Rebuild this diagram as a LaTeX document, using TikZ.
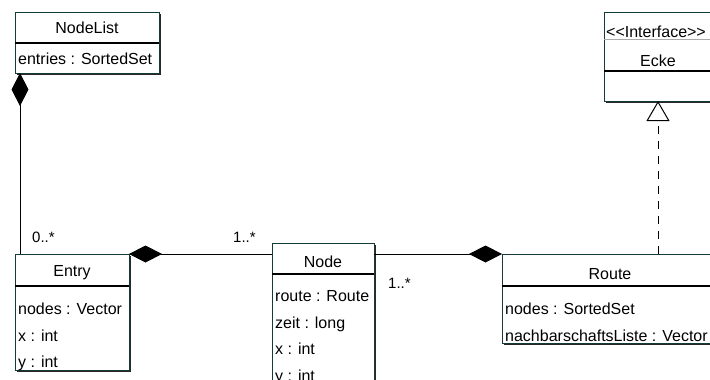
\documentclass[tikz,border=0pt]{standalone}
\usepackage{fontspec}
\setmainfont{Liberation Sans}
\usetikzlibrary{arrows.meta,shadows}

\definecolor{boxline}{RGB}{20,58,58}
\definecolor{shadowcol}{RGB}{40,40,40}
\definecolor{thinrule}{RGB}{170,170,170}

\tikzset{
  classbox/.style={draw=boxline, fill=white, line width=1pt, inner sep=0pt, outer sep=0pt,
    drop shadow={shadow xshift=2.2pt, shadow yshift=-2.2pt, opacity=1, fill=shadowcol}},
  divider/.style={line width=1.6pt, black},
  lightdivider/.style={line width=0.6pt, thinrule},
  title/.style={anchor=base, inner sep=0pt, font=\fontsize{16}{19}\selectfont},
  attr/.style={anchor=base west, inner sep=0pt, font=\fontsize{16}{19}\selectfont},
  mult/.style={anchor=base west, inner sep=0pt, font=\fontsize{15}{18}\selectfont},
  compose/.style={line width=1pt, black, {Diamond[length=33pt,width=17pt]}-},
  realize/.style={line width=1pt, black, dash pattern=on 8pt off 7pt,
    -{Triangle[open,length=20pt,width=23pt,fill=white]}},
}

\begin{document}
\begin{tikzpicture}[x=1pt,y=-1pt]
\fill[white] (0,0) rectangle (710,380);
\useasboundingbox (0,0) rectangle (710,380);
\clip (0,0) rectangle (710,380);

% class frames
\node[classbox, minimum width=144pt, minimum height=61pt]  (nodelist) at (87,42.5) {};
\node[classbox, minimum width=114pt, minimum height=116pt] (entry)    at (72,312) {};
\node[classbox, minimum width=102pt, minimum height=157pt] (node)     at (323,321.5) {};
\node[classbox, minimum width=216pt, minimum height=89pt]  (route)    at (610,298.5) {};
\node[classbox, minimum width=108pt, minimum height=89pt]  (ecke)     at (658,56.5) {};

% compartment rules
\draw[divider] (nodelist.west |- 0,43) -- (nodelist.east |- 0,43);
\draw[divider] (entry.west |- 0,286) -- (entry.east |- 0,286);
\draw[divider] (node.west |- 0,274) -- (node.east |- 0,274);
\draw[divider] (route.west |- 0,286) -- (route.east |- 0,286);
\draw[lightdivider] (ecke.west |- 0,39) -- (ecke.east |- 0,39);
\draw[divider] (ecke.west |- 0,71) -- (ecke.east |- 0,71);

% NodeList
\node[title] (nodelist-name) at (87,34) {NodeList};
\node[attr] (nodelist-a1) at (18,64) {entries : SortedSet};

% Entry
\node[title] (entry-name) at (72,276) {Entry};
\node[attr] (entry-a1) at (18,314) {nodes : Vector};
\node[attr] (entry-a2) at (18,341) {x : int};
\node[attr] (entry-a3) at (18,367) {y : int};

% Node
\node[title] (node-name) at (323,267) {Node};
\node[attr] (node-a1) at (275,301) {route : Route};
\node[attr] (node-a2) at (275,328) {zeit : long};
\node[attr] (node-a3) at (275,354) {x : int};
\node[attr] (node-a4) at (275,381) {y : int};

% Route
\node[title] (route-name) at (610,279) {Route};
\node[attr] (route-a1) at (505,314) {nodes : SortedSet};
\node[attr] (route-a2) at (505,341) {nachbarschaftsListe : Vector};

% Ecke
\node[attr] (ecke-stereo) at (606,37) {<{}<Interface>{}>};
\node[title] (ecke-name) at (658,66) {Ecke};

% associations
\draw[compose] ([xshift=5pt]nodelist.south west) -- ([xshift=5pt]entry.north west);
\draw[compose] (entry.north east) -- (entry.north east -| node.west);
\draw[compose] (route.north west) -- (route.north west -| node.east);
\draw[realize] (route.north -| ecke.south) -- (ecke.south);

% multiplicities
\node[mult] (m-entry) at (32,242) {0..*};
\node[mult] (m-node-left) at (233,242) {1..*};
\node[mult] (m-node-right) at (388,288) {1..*};
\end{tikzpicture}
\end{document}
